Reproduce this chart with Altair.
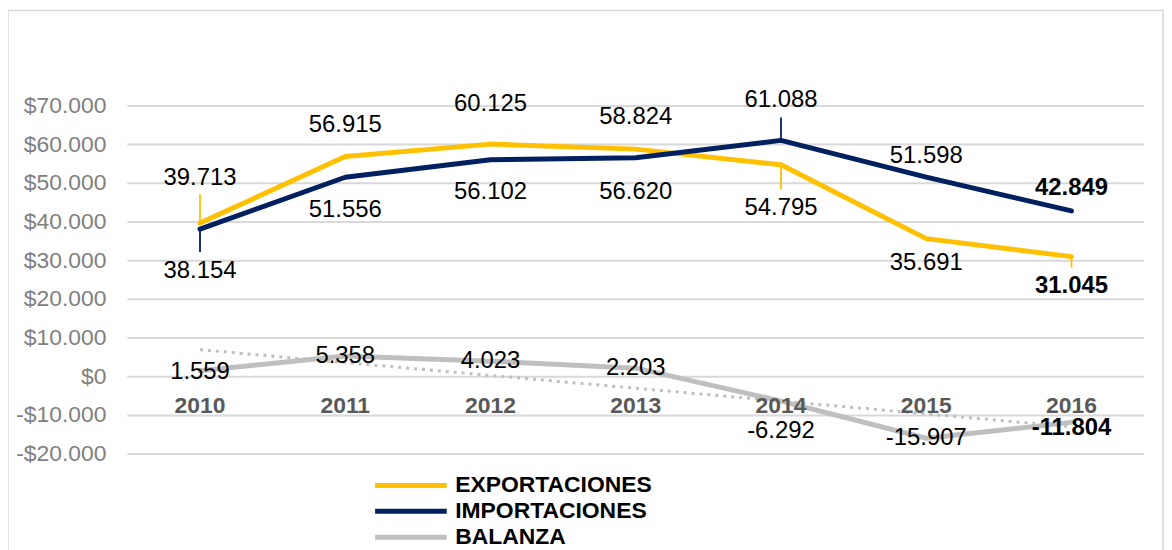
import altair as alt
import pandas as pd

# ---------------- data ----------------
years = ["2010", "2011", "2012", "2013", "2014", "2015", "2016"]
exportaciones = [39713, 56915, 60125, 58824, 54795, 35691, 31045]
importaciones = [38154, 51556, 56102, 56620, 61088, 51598, 42849]
balanza = [1559, 5358, 4023, 2203, -6292, -15907, -11804]
series_names = ["EXPORTACIONES", "IMPORTACIONES", "BALANZA"]
y_ticks = [-20000, -10000, 0, 10000, 20000, 30000, 40000, 50000, 60000, 70000]

# ---------------- style / layout ----------------
colors = ["#FFC000", "#002060", "#BFBFBF"]
FONT = "Liberation Sans"
W, H = 1022, 350
Y_DOMAIN = [-20000, 70000]
# label vertical offsets (px, + = down)
label_dy = {
    "EXPORTACIONES": [-45, -32, -40, -32, 44, 25, 30],
    "IMPORTACIONES": [42, 33, 33, 35, -41, -21, -23],
    "BALANZA": [1, 0, 0, 0, 30, 0, 6],
}
# leader lines (px from point, + = down)
leaders = [("EXPORTACIONES", 0, -29), ("IMPORTACIONES", 0, 23),
           ("IMPORTACIONES", 4, -23), ("EXPORTACIONES", 4, 25),
           ("EXPORTACIONES", 6, 11)]
PX = (Y_DOMAIN[1] - Y_DOMAIN[0]) / H


def fmt(v):
    return ("-" if v < 0 else "") + f"{abs(v):,}".replace(",", ".")


def fmt_money(v):
    return ("-" if v < 0 else "") + "$" + f"{abs(v):,}".replace(",", ".")


values = {"EXPORTACIONES": exportaciones, "IMPORTACIONES": importaciones, "BALANZA": balanza}
rows = []
for name in series_names:
    for i, yr in enumerate(years):
        v = values[name][i]
        rows.append({"idx": i, "year": yr, "serie": name, "value": v,
                     "label": fmt(v), "lab_y": v - label_dy[name][i] * PX,
                     "bold": yr == years[-1]})
df = pd.DataFrame(rows)
df_bal = df[df.serie == "BALANZA"]
df_lead = pd.DataFrame([{"idx": i, "serie": s, "value": values[s][i],
                         "end": values[s][i] - d * PX} for s, i, d in leaders])
df_years = pd.DataFrame({"idx": list(range(len(years))), "year": years, "zero": [0] * len(years)})
df_ticks = pd.DataFrame({"tick": y_ticks, "tlabel": [fmt_money(t) for t in y_ticks]})

xenc = alt.X("idx:Q", scale=alt.Scale(domain=[-0.5, len(years) - 0.5], nice=False, zero=False), axis=None)
yscale = alt.Scale(domain=Y_DOMAIN, nice=False, zero=False)
cscale = alt.Scale(domain=series_names, range=colors)

border = alt.Chart(pd.DataFrame({"a": [0]})).mark_rect(
    fillOpacity=0, stroke="#D9D9D9", strokeWidth=1.5, clip=False
).encode(x=alt.value(-120), x2=alt.value(W + 19), y=alt.value(-96), y2=alt.value(H + 120))

grid = alt.Chart(df_ticks).mark_rule(color="#D9D9D9", strokeWidth=2).encode(
    x=alt.value(0), x2=alt.value(W), y=alt.Y("tick:Q", scale=yscale, axis=None))

ylabels = alt.Chart(df_ticks).mark_text(
    align="right", baseline="middle", fontSize=23, font=FONT, color="#7F7F7F"
).encode(x=alt.value(-21), y=alt.Y("tick:Q", scale=yscale, axis=None), text="tlabel:N")

lines = alt.Chart(df).mark_line(strokeWidth=5, strokeCap="round", strokeJoin="round").encode(
    x=xenc,
    y=alt.Y("value:Q", scale=yscale, axis=None),
    color=alt.Color("serie:N", scale=cscale, sort=series_names, legend=alt.Legend(
        orient="none", legendX=249, legendY=370, direction="vertical", title=None,
        symbolType="M-4,0H4", symbolSize=324, symbolStrokeWidth=5, symbolOffset=24.5,
        labelOffset=33, labelFontSize=23, labelFontWeight="bold", labelColor="black",
        labelFont=FONT, labelLimit=0, rowPadding=2, padding=0)),
    order="idx:Q",
)

trend = alt.Chart(df_bal).transform_regression("idx", "value").mark_line(
    color="#BFBFBF", strokeWidth=3, strokeDash=[3, 5]
).encode(x=xenc, y=alt.Y("value:Q", scale=yscale, axis=None))

lead = alt.Chart(df_lead).mark_rule(strokeWidth=1.8).encode(
    x=xenc, y=alt.Y("value:Q", scale=yscale, axis=None), y2="end:Q",
    color=alt.Color("serie:N", scale=cscale, legend=None))

labels_n = alt.Chart(df).transform_filter("!datum.bold").mark_text(
    fontSize=24, font=FONT, color="black", baseline="middle"
).encode(x=xenc, y=alt.Y("lab_y:Q", scale=yscale, axis=None), text="label:N")

labels_b = alt.Chart(df).transform_filter("datum.bold").mark_text(
    fontSize=24, font=FONT, color="black", fontWeight="bold", baseline="middle"
).encode(x=xenc, y=alt.Y("lab_y:Q", scale=yscale, axis=None), text="label:N")

year_lbl = alt.Chart(df_years).mark_text(
    fontSize=23, font=FONT, color="#595959", fontWeight="bold", baseline="middle", dy=29
).encode(x=xenc, y=alt.Y("zero:Q", scale=yscale, axis=None), text="year:N")

chart = alt.layer(border, grid, ylabels, lines, trend, lead, labels_n, labels_b, year_lbl).properties(
    width=W, height=H,
    autosize=alt.AutoSizeParams(type="none"),
    padding={"left": 120, "top": 97, "right": 20, "bottom": 95},
).configure(font=FONT).configure_view(stroke=None)

chart.save("out.html", embed_options={"renderer": "svg", "actions": False})
